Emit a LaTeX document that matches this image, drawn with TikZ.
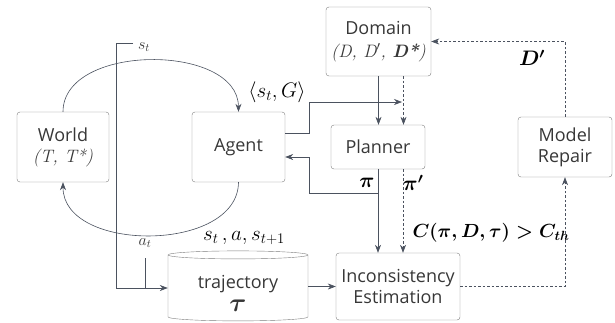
\RequirePackage{fix-cm}
\documentclass[tikz,border=0pt]{standalone}
\usepackage{amsmath,amssymb}
\usepackage{fontspec}
\newfontfamily\boxfont{Open Sans}
\usepackage{tikz}
\usetikzlibrary{arrows.meta,shapes.geometric}

\definecolor{edgegray}{RGB}{75,82,95}
\definecolor{boxgray}{RGB}{125,125,125}
\definecolor{txtgray}{RGB}{55,55,55}

\tikzset{
	>={Stealth[length=8pt,width=6pt]},
	block/.style={draw=boxgray, rounded corners=3pt, align=center, inner sep=0pt,
		text=txtgray, font=\boxfont\fontsize{18}{21}\selectfont},
	lbl/.style={font=\fontsize{21}{24}\selectfont},
	small/.style={font=\fontsize{16}{18}\selectfont, text=txtgray},
	dotline/.style={dash pattern=on 2.5pt off 2pt},
}

\begin{document}
\begin{tikzpicture}[x=1pt,y=-1pt]
		\useasboundingbox (0,0) rectangle (615,322);
		\node[block, minimum width=92pt, minimum height=70pt] (world) at (63,147) {World\\{\rmfamily\itshape (T, T*)}};
		\node[block, minimum width=93pt, minimum height=70pt] (agent) at (238.5,147) {Agent};
		\node[block, minimum width=105pt, minimum height=69pt] (domain) at (378.5,41.5) {Domain\\[2pt]{\rmfamily\itshape (D, D$'$, \textbf{D*})}};
		\node[block, minimum width=94pt, minimum height=44pt] (planner) at (378,147) {Planner};
		\node[block, minimum width=94pt, minimum height=60pt] (repair) at (565,147) {Model\\Repair};
		\node[block, minimum width=124pt, minimum height=67pt] (incons) at (398,286.5) {Inconsistency\\Estimation};
		\node[cylinder, shape border rotate=90, draw=boxgray, aspect=0.1, minimum width=140pt, minimum height=70pt,
			inner sep=0pt, text=txtgray, font=\boxfont\fontsize{18}{21}\selectfont] (traj) at (238,288)
			{\raisebox{-8pt}[\height][\depth]{\begin{tabular}{@{}c@{}}trajectory\\[2pt]{\fontsize{26}{26}\selectfont$\boldsymbol{\tau}$}\end{tabular}}};
		%
		\node[lbl] (stg) at (277,92) {$\langle s_t, G\rangle$};
		\node[lbl] (sas) at (244,238) {$s_t\,, a, s_{t+1}$};
		\node[lbl] (pi) at (367,183) {$\boldsymbol{\pi}$};
		\node[lbl] (pip) at (413,183) {$\boldsymbol{\pi'}$};
		\node[lbl, font=\fontsize{19}{22}\selectfont] (cost) at (491,233) {$\boldsymbol{C(\pi, D, \tau) > C_{th}}$};
		\node[lbl] (dp) at (532,58) {$\boldsymbol{D'}$};
		\node[small] (st) at (144,47) {$s_t$};
		\node[small] (at) at (145,243) {$a_t$};
		%
		\coordinate (sttop) at (133,43);
		\coordinate (attop) at (145,258);
		\coordinate (join) at (402,102);
		\coordinate (pib) at (378,193);
		%
		\begin{scope}[draw=edgegray, line width=0.6pt]
		\draw[->] (world.north) .. controls (63,43) and (238,43) .. (agent.north);
		\draw[->] (agent.south) .. controls (238,253) and (63,253) .. (world.south);
		\draw[->] (sttop) -- ++(-17,0) |- (traj.west);
		\draw (attop) -- (attop |- traj.west);
		\draw[->] ([yshift=14pt]agent.east) -- ++(24,0) |- (join);
		\draw[->] (pib) -- ++(-69,0) |- ([yshift=-10pt]agent.east);
		\path[->]
		(domain.south) edge (domain.south |- planner.north)
		([xshift=25pt]domain.south) edge[dotline] ([xshift=25pt]domain.south |- planner.north)
		(planner.south) edge (planner.south |- incons.north)
		([xshift=25pt]planner.south) edge[dotline] ([xshift=25pt]planner.south |- incons.north)
		(incons.west -| traj.east) edge (incons.west);
		\draw[->, dotline] (incons.east) -| (repair.south);
		\draw[->, dotline] (repair.north) |- (domain.east);
		\end{scope}
\end{tikzpicture}
\end{document}
